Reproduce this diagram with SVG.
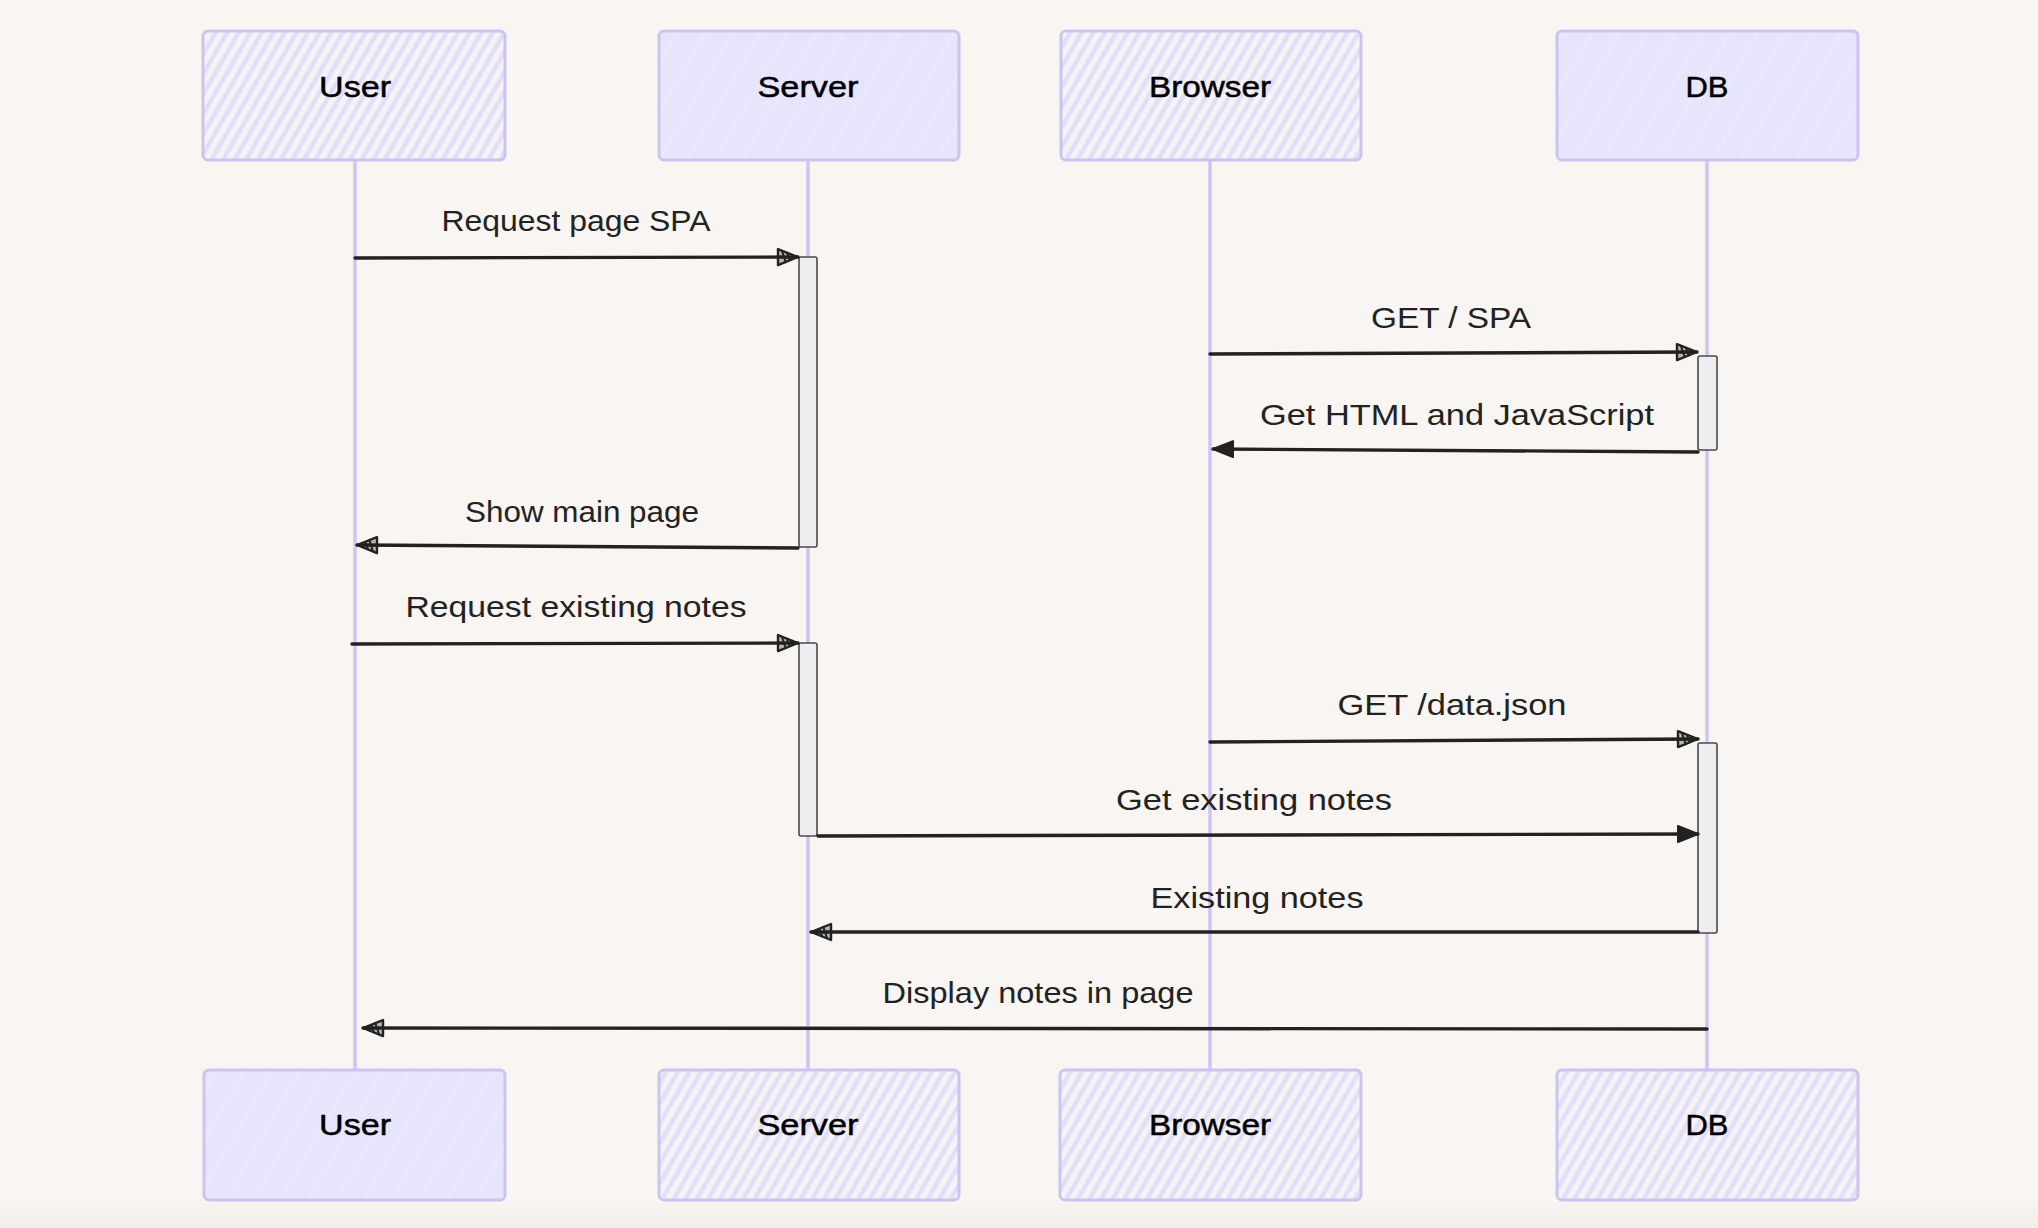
<svg xmlns="http://www.w3.org/2000/svg" width="2038" height="1228" viewBox="0 0 2038 1228">
<style>
.bg{fill:#f8f5f2}
.box{stroke:#cdc3f1;stroke-width:3}
.hatch{fill:url(#hatch)}
.solid{fill:url(#solid)}
.life{stroke:#cfc4f5;stroke-width:3.5;fill:none}
.act{fill:#eeedf0;stroke:#4a4a4a;stroke-width:1.6}
.msg{stroke:#222;stroke-width:3.4;fill:none;stroke-linecap:round}
.lbl{font-family:"Liberation Sans","Open Sans",sans-serif;font-size:29px;fill:#222;text-anchor:middle}
.nlbl{font-family:"Liberation Sans","Open Sans",sans-serif;font-size:30px;fill:#000;text-anchor:middle;stroke:#000;stroke-width:0.5}
</style>
<defs>
<pattern id="hatch" patternUnits="userSpaceOnUse" width="10" height="10" patternTransform="rotate(30)">
<rect width="10" height="10" fill="#f6f3f4"/>
<line x1="3" y1="0" x2="3" y2="10" stroke="#e2defa" stroke-width="4.5"/>
</pattern>
<pattern id="solid" patternUnits="userSpaceOnUse" width="24" height="24" patternTransform="rotate(30)">
<rect width="24" height="24" fill="#e7e5fb"/>
<line x1="3" y1="0" x2="3" y2="24" stroke="#efedfb" stroke-width="1.2"/>
</pattern>
<marker id="open" markerUnits="userSpaceOnUse" markerWidth="26" markerHeight="20" refX="22" refY="10" orient="auto">
<path d="M2,2 L22,10 L2,18 Z" fill="#222" fill-opacity="0.3" stroke="#222" stroke-width="2.4" stroke-linejoin="round"/>
<path d="M6,4 L10,16 M11,6 L14,14 M15,8 L17,12" stroke="#222" stroke-width="2"/>
</marker>
<marker id="solidhead" markerUnits="userSpaceOnUse" markerWidth="26" markerHeight="20" refX="22" refY="10" orient="auto">
<path d="M2,2 L22,10 L2,18 Z" fill="#222" stroke="#222" stroke-width="2" stroke-linejoin="round"/>
</marker>
<linearGradient id="foot" x1="0" y1="0" x2="0" y2="1">
<stop offset="0" stop-color="#f8f5f2"/>
<stop offset="1" stop-color="#efedeb"/>
</linearGradient>
</defs>
<rect class="bg" x="0" y="0" width="2038" height="1228"/>
<rect x="0" y="1200" width="2038" height="28" fill="url(#foot)"/>

<g id="lifelines">
<line class="life" x1="355" y1="160" x2="355" y2="1070"/>
<line class="life" x1="808" y1="160" x2="808" y2="1070"/>
<line class="life" x1="1210" y1="160" x2="1210" y2="1070"/>
<line class="life" x1="1707" y1="160" x2="1707" y2="1070"/>
</g>

<g id="activations">
<rect class="act" x="799" y="257" width="18" height="290" rx="2"/>
<rect class="act" x="799" y="643" width="18" height="193" rx="2"/>
<rect class="act" x="1698" y="356" width="19" height="94" rx="2"/>
<rect class="act" x="1698" y="743" width="19" height="190" rx="2"/>
</g>

<g id="node-user-top"><rect class="box hatch" x="203" y="31" width="302" height="129" rx="5"/><text class="nlbl" x="355" y="97" textLength="72" lengthAdjust="spacingAndGlyphs">User</text></g>
<g id="node-server-top"><rect class="box solid" x="659" y="31" width="300" height="129" rx="5"/><text class="nlbl" x="808" y="97" textLength="101" lengthAdjust="spacingAndGlyphs">Server</text></g>
<g id="node-browser-top"><rect class="box hatch" x="1061" y="31" width="300" height="129" rx="5"/><text class="nlbl" x="1210" y="97" textLength="122" lengthAdjust="spacingAndGlyphs">Browser</text></g>
<g id="node-db-top"><rect class="box solid" x="1557" y="31" width="301" height="129" rx="5"/><text class="nlbl" x="1707" y="97" textLength="43" lengthAdjust="spacingAndGlyphs">DB</text></g>

<g id="node-user-bottom"><rect class="box solid" x="204" y="1070" width="301" height="130" rx="5"/><text class="nlbl" x="355" y="1135" textLength="72" lengthAdjust="spacingAndGlyphs">User</text></g>
<g id="node-server-bottom"><rect class="box hatch" x="659" y="1070" width="300" height="130" rx="5"/><text class="nlbl" x="808" y="1135" textLength="101" lengthAdjust="spacingAndGlyphs">Server</text></g>
<g id="node-browser-bottom"><rect class="box hatch" x="1060" y="1070" width="301" height="130" rx="5"/><text class="nlbl" x="1210" y="1135" textLength="122" lengthAdjust="spacingAndGlyphs">Browser</text></g>
<g id="node-db-bottom"><rect class="box hatch" x="1557" y="1070" width="301" height="130" rx="5"/><text class="nlbl" x="1707" y="1135" textLength="43" lengthAdjust="spacingAndGlyphs">DB</text></g>

<g id="connectors">
<path class="msg" d="M355,258 L798,257" marker-end="url(#open)"/>
<path class="msg" d="M1210,354 L1697,352" marker-end="url(#open)"/>
<path class="msg" d="M1698,452 L1213,449" marker-end="url(#solidhead)"/>
<path class="msg" d="M798,548 L357,545" marker-end="url(#open)"/>
<path class="msg" d="M352,644 L798,643" marker-end="url(#open)"/>
<path class="msg" d="M1210,742 L1698,739" marker-end="url(#open)"/>
<path class="msg" d="M818,836 L1698,834" marker-end="url(#solidhead)"/>
<path class="msg" d="M1698,932 L811,932" marker-end="url(#open)"/>
<path class="msg" d="M1707,1029 L363,1028" marker-end="url(#open)"/>
</g>

<g id="labels">
<text class="lbl" x="576" y="231" textLength="269" lengthAdjust="spacingAndGlyphs">Request page SPA</text>
<text class="lbl" x="1451" y="328" textLength="160" lengthAdjust="spacingAndGlyphs">GET / SPA</text>
<text class="lbl" x="1457" y="425" textLength="394" lengthAdjust="spacingAndGlyphs">Get HTML and JavaScript</text>
<text class="lbl" x="582" y="522" textLength="234" lengthAdjust="spacingAndGlyphs">Show main page</text>
<text class="lbl" x="576" y="617" textLength="341" lengthAdjust="spacingAndGlyphs">Request existing notes</text>
<text class="lbl" x="1452" y="715" textLength="229" lengthAdjust="spacingAndGlyphs">GET /data.json</text>
<text class="lbl" x="1254" y="810" textLength="276" lengthAdjust="spacingAndGlyphs">Get existing notes</text>
<text class="lbl" x="1257" y="908" textLength="213" lengthAdjust="spacingAndGlyphs">Existing notes</text>
<text class="lbl" x="1038" y="1003" textLength="311" lengthAdjust="spacingAndGlyphs">Display notes in page</text>
</g>
</svg>
